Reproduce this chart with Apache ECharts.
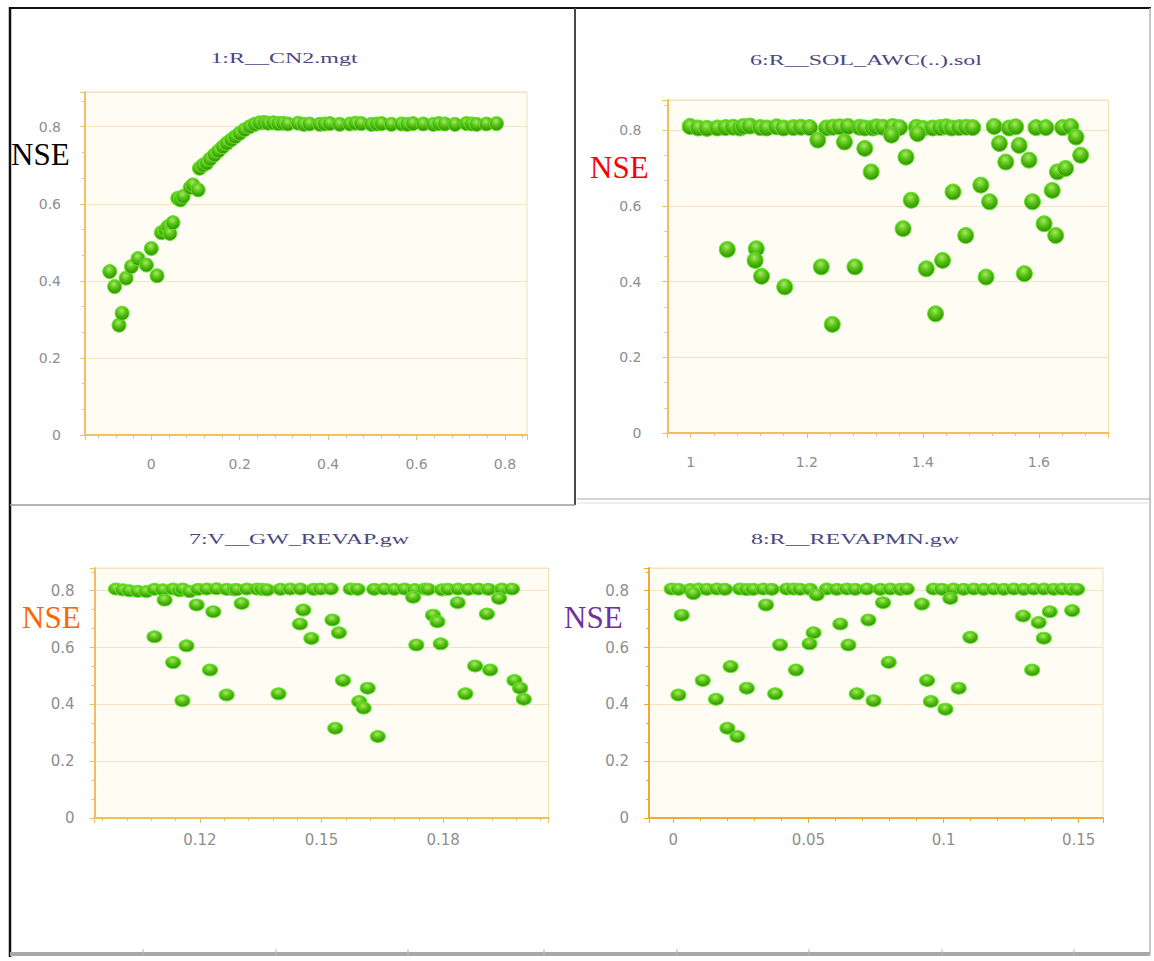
<!DOCTYPE html>
<html><head><meta charset="utf-8">
<script src="https://cdn.jsdelivr.net/npm/echarts@6/dist/echarts.min.js"></script>
<style>html,body{margin:0;padding:0;background:#fff}#c{width:1154px;height:961px}</style>
</head><body><div id="c"></div>
<script>
// ---------------- DATA ----------------
const panelTitles = ['1:R__CN2.mgt', '6:R__SOL_AWC(..).sol', '7:V__GW_REVAP.gw', '8:R__REVAPMN.gw'];
const yName = 'NSE';

// 1:R__CN2.mgt  [parameter value, NSE]
const cn2Points = [
 [-0.094,0.424],[-0.083,0.385],[-0.073,0.285],[-0.066,0.316],[-0.057,0.407],[-0.045,0.437],[-0.03,0.458],
 [-0.011,0.441],[0.0,0.484],[0.013,0.413],[0.023,0.525],[0.032,0.532],[0.038,0.541],[0.042,0.523],[0.049,0.551],
 [0.06,0.614],[0.066,0.61],[0.072,0.619],[0.088,0.642],[0.094,0.649],[0.106,0.636],[0.109,0.692],[0.117,0.70],
 [0.125,0.705],[0.133,0.716],[0.143,0.727],[0.152,0.737],[0.162,0.748],[0.171,0.757],[0.181,0.766],[0.19,0.774],
 [0.2,0.783],[0.211,0.792],[0.223,0.800],[0.234,0.806],[0.245,0.81],[0.256,0.811],
 [0.264,0.809],[0.276,0.81],[0.287,0.808],[0.298,0.809],[0.309,0.807],[0.332,0.809],[0.345,0.806],[0.358,0.807],
 [0.381,0.806],[0.392,0.807],[0.404,0.808],[0.426,0.806],[0.449,0.807],[0.462,0.809],[0.475,0.808],[0.498,0.806],
 [0.51,0.807],[0.521,0.808],[0.543,0.806],[0.566,0.807],[0.579,0.806],[0.592,0.808],[0.615,0.807],[0.638,0.806],
 [0.651,0.808],[0.664,0.807],[0.687,0.806],[0.713,0.808],[0.725,0.807],[0.736,0.806],[0.758,0.807],[0.781,0.808]
];

// 6:R__SOL_AWC(..).sol
const solAwcPoints = [
 [0.999,0.81],[1.013,0.806],[1.028,0.805],[1.046,0.806],[1.06,0.807],[1.073,0.808],[1.085,0.806],[1.091,0.81],
 [1.102,0.811],[1.12,0.807],[1.131,0.806],[1.148,0.809],[1.16,0.806],[1.177,0.807],[1.19,0.808],[1.205,0.807],
 [1.234,0.806],[1.245,0.808],[1.257,0.809],[1.271,0.81],[1.291,0.808],[1.30,0.806],[1.314,0.806],[1.32,0.809],
 [1.331,0.808],[1.348,0.81],[1.36,0.807],[1.389,0.808],[1.4,0.805],[1.417,0.806],[1.43,0.807],[1.44,0.809],
 [1.45,0.806],[1.463,0.807],[1.475,0.808],[1.486,0.807],[1.523,0.81],[1.549,0.806],[1.56,0.809],[1.595,0.807],
 [1.612,0.807],[1.641,0.807],[1.655,0.81],
 [1.219,0.774],[1.265,0.769],[1.30,0.752],[1.346,0.787],[1.391,0.791],[1.664,0.782],[1.532,0.765],[1.566,0.76],
 [1.543,0.716],[1.583,0.721],[1.672,0.734],[1.371,0.729],[1.311,0.69],[1.632,0.69],[1.646,0.699],[1.50,0.655],
 [1.452,0.637],[1.623,0.641],[1.38,0.615],[1.515,0.611],[1.589,0.611],[1.366,0.54],[1.609,0.553],[1.629,0.522],
 [1.474,0.522],[1.063,0.485],[1.113,0.487],[1.111,0.456],[1.122,0.414],[1.162,0.386],[1.225,0.439],[1.283,0.439],
 [1.406,0.434],[1.434,0.456],[1.509,0.412],[1.575,0.421],[1.244,0.287],[1.422,0.315]
];

// 7:V__GW_REVAP.gw
const gwRevapPoints = [
 [0.0993,0.806],[0.101,0.803],[0.1026,0.8],[0.1047,0.798],[0.1068,0.797],[0.1088,0.805],[0.1109,0.803],[0.1134,0.806],
 [0.115,0.8],[0.1158,0.806],[0.1175,0.797],[0.1196,0.805],[0.1217,0.806],[0.1241,0.807],[0.1266,0.805],[0.1285,0.803],
 [0.1291,0.804],[0.1316,0.806],[0.1341,0.806],[0.1353,0.805],[0.1366,0.803],[0.1399,0.805],[0.1423,0.806],[0.1448,0.806],
 [0.1481,0.805],[0.1498,0.806],[0.1523,0.806],[0.1572,0.806],[0.1589,0.805],[0.163,0.805],[0.1655,0.806],[0.168,0.805],
 [0.1705,0.806],[0.173,0.804],[0.1755,0.806],[0.1763,0.805],[0.1797,0.803],[0.1812,0.805],[0.1837,0.806],[0.1862,0.805],
 [0.1887,0.806],[0.1912,0.805],[0.1945,0.806],[0.197,0.806],
 [0.1113,0.767],[0.1192,0.75],[0.1233,0.726],[0.1303,0.755],[0.1088,0.638],[0.1167,0.606],[0.1134,0.547],[0.1225,0.521],
 [0.1157,0.413],[0.1266,0.433],[0.1394,0.437],[0.1455,0.732],[0.1447,0.683],[0.1475,0.632],[0.1527,0.697],[0.1543,0.652],
 [0.1553,0.484],[0.1614,0.457],[0.1593,0.41],[0.1604,0.387],[0.1534,0.316],[0.1639,0.287],[0.1726,0.777],[0.1775,0.714],
 [0.1786,0.691],[0.1734,0.609],[0.1794,0.613],[0.1836,0.758],[0.1908,0.718],[0.1938,0.773],[0.1879,0.535],[0.1916,0.521],
 [0.1855,0.437],[0.1976,0.484],[0.199,0.457],[0.1999,0.418]
];

// 8:R__REVAPMN.gw
const revapmnPoints = [
 [-0.0006,0.806],[0.0019,0.805],[0.0062,0.804],[0.0093,0.806],[0.0124,0.805],[0.0161,0.806],[0.0191,0.805],[0.0247,0.806],
 [0.0272,0.804],[0.0296,0.805],[0.0333,0.806],[0.0364,0.805],[0.042,0.806],[0.0445,0.806],[0.0469,0.805],[0.0506,0.805],
 [0.0568,0.806],[0.0605,0.805],[0.0642,0.806],[0.0673,0.805],[0.0716,0.806],[0.0766,0.805],[0.0803,0.806],[0.084,0.805],
 [0.0864,0.806],[0.0963,0.806],[0.0994,0.805],[0.1037,0.806],[0.1074,0.805],[0.1112,0.806],[0.1149,0.805],[0.1186,0.806],
 [0.1223,0.805],[0.126,0.806],[0.1297,0.805],[0.1334,0.806],[0.1371,0.806],[0.1408,0.805],[0.1439,0.806],[0.147,0.805],
 [0.1494,0.805],
 [0.0074,0.79],[0.0531,0.785],[0.1025,0.773],
 [0.0031,0.714],[0.0343,0.75],[0.0776,0.758],[0.092,0.753],[0.1476,0.73],[0.1294,0.711],[0.1352,0.688],[0.1393,0.726],
 [0.1371,0.633],[0.1099,0.636],[0.0618,0.683],[0.0722,0.697],[0.0519,0.652],[0.0504,0.613],[0.0395,0.609],[0.0648,0.609],
 [0.0797,0.548],[0.0454,0.521],[0.1328,0.521],[0.0212,0.533],[0.0109,0.484],[0.0939,0.484],[0.1056,0.457],[0.0019,0.433],
 [0.0158,0.418],[0.0272,0.457],[0.0377,0.437],[0.0679,0.437],[0.0741,0.413],[0.0953,0.41],[0.1007,0.383],[0.02,0.316],
 [0.0237,0.287]
];

const panelData = [cn2Points, solAwcPoints, gwRevapPoints, revapmnPoints];
const xExtents = [[-0.15, 0.85], [0.96, 1.72], [0.094, 0.206], [-0.009, 0.159]];
const yExtents = [[0, 0.89], [0, 0.88], [0, 0.88], [0, 0.88]];

// ---------------- LAYOUT / STYLE ----------------
const layout = [
 {left: 85,    top: 92,  width: 442, height: 343, xSplit: 5, sym: 14,       fs: 14, xMargin: 22, yMargin: 24, axisColor: '#efc06a'},
 {left: 667.5, top: 100, width: 441, height: 333, xSplit: 4, sym: 16,       fs: 14, xMargin: 22, yMargin: 26, axisColor: '#efbd62'},
 {left: 94.5,  top: 568, width: 454, height: 250, xSplit: 4, sym: [15, 12], fs: 15, xMargin: 14, yMargin: 20, axisColor: '#efbd62'},
 {left: 649,   top: 568, width: 454, height: 250, xSplit: 4, sym: [15, 12], fs: 15, xMargin: 14, yMargin: 20, axisColor: '#f0a838'}
];
const titlePos = [[284, 58], [866, 60], [299, 539], [855, 539]];
const nsePos = [[11, 154, '#000000'], [590, 167, '#ff0000'], [22, 617, '#ff6600'], [564, 617, '#7030a0']];

const labelColor = '#8e8e8e';
const labelFont = 'DejaVu Sans';

const ball = new echarts.graphic.RadialGradient(0.45, 0.32, 0.72, [
  {offset: 0, color: '#a6ea5e'},
  {offset: 0.45, color: '#56c214'},
  {offset: 1, color: '#2c8800'}
]);

const grids = layout.map(l => ({
  left: l.left, top: l.top, width: l.width, height: l.height,
  show: true, backgroundColor: '#fffcf3', borderColor: '#f6dfb2', borderWidth: 1
}));

const xAxes = layout.map((l, i) => ({
  type: 'value', gridIndex: i, min: xExtents[i][0], max: xExtents[i][1], splitNumber: l.xSplit,
  axisLine: {show: true, onZero: false, lineStyle: {color: l.axisColor, width: 2}},
  axisTick: {show: true, length: 5, lineStyle: {color: l.axisColor, width: 1}},
  minorTick: {show: true, splitNumber: 5, length: 3, lineStyle: {color: l.axisColor, width: 1}},
  splitLine: {show: false},
  axisLabel: {showMinLabel: false, showMaxLabel: false, margin: l.xMargin, color: labelColor,
              fontFamily: labelFont, fontSize: l.fs}
}));

const yAxes = layout.map((l, i) => ({
  type: 'value', gridIndex: i, min: yExtents[i][0], max: yExtents[i][1], splitNumber: 4,
  axisLine: {show: true, onZero: false, lineStyle: {color: l.axisColor, width: 2}},
  axisTick: {show: true, length: 5, lineStyle: {color: l.axisColor, width: 1}},
  minorTick: {show: true, splitNumber: 3, length: 3, lineStyle: {color: l.axisColor, width: 1}},
  splitLine: {show: true, lineStyle: {color: '#f3e3c2', width: 1}},
  axisLabel: {showMaxLabel: false, margin: l.yMargin, color: labelColor, fontFamily: labelFont, fontSize: l.fs}
}));

const series = panelData.map((pts, i) => ({
  type: 'scatter', xAxisIndex: i, yAxisIndex: i, data: pts,
  symbol: 'circle', symbolSize: layout[i].sym,
  itemStyle: {color: ball, borderColor: '#5ee52a', borderWidth: 1, opacity: 1},
  emphasis: {disabled: true}
}));

// frame lines
const frameLines = [
  [10, 8, 1151, 8, '#111111', 2],
  [10, 7, 10, 957, '#111111', 2.5],
  [575, 8, 575, 505, '#4a4a4a', 2],
  [10, 505, 575, 505, '#9a9a9a', 1.5],
  [577, 499, 1150, 499, '#c6c6c6', 1.5],
  [1150, 8, 1150, 955, '#b4b4b4', 1.5],
  [577, 503, 1150, 503, '#dedede', 1],
  [10, 954, 1150, 954, '#a8a8a8', 4]
];
const rulerTicks = [143, 276, 408, 544, 677, 809, 942, 1074];

const graphic = [];
frameLines.forEach(f => graphic.push({
  type: 'line', silent: true, z: 100,
  shape: {x1: f[0], y1: f[1], x2: f[2], y2: f[3]},
  style: {stroke: f[4], lineWidth: f[5]}
}));
rulerTicks.forEach(x => graphic.push({
  type: 'line', silent: true, z: 100,
  shape: {x1: x, y1: 949, x2: x, y2: 956}, style: {stroke: '#b8b8b8', lineWidth: 1}
}));
panelTitles.forEach((t, i) => graphic.push({
  type: 'text', silent: true, z: 100, x: titlePos[i][0], y: titlePos[i][1], scaleX: 1.6, scaleY: 1,
  style: {text: t, fill: '#4b4680', font: '15px "Liberation Serif"',
          textAlign: 'center', textVerticalAlign: 'middle', align: 'center', verticalAlign: 'middle'}
}));
nsePos.forEach(p => graphic.push({
  type: 'text', silent: true, z: 100, x: p[0], y: p[1],
  style: {text: yName, fill: p[2], font: '31px "Liberation Serif"', lineHeight: 26,
          textAlign: 'left', textVerticalAlign: 'middle', align: 'left', verticalAlign: 'middle'}
}));

const chart = echarts.init(document.getElementById('c'), null, {renderer: 'svg', width: 1154, height: 961});
chart.setOption({
  animation: false,
  backgroundColor: '#ffffff',
  grid: grids, xAxis: xAxes, yAxis: yAxes, series: series, graphic: graphic
});
</script></body></html>
